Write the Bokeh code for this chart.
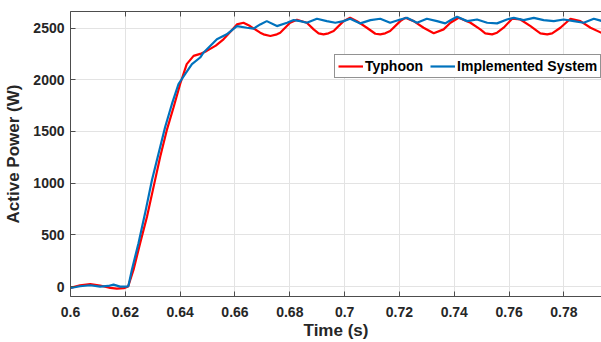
from bokeh.plotting import figure
from bokeh.models import Range1d, FixedTicker, LinearAxis, Legend, LegendItem
from bokeh.embed import file_html
from bokeh.resources import INLINE

# Typhoon (red) series
red_t = [0.600, 0.6035, 0.6072, 0.6108, 0.6145, 0.6169, 0.6195, 0.6210, 0.6230, 0.6254,
         0.6279, 0.6303, 0.6327, 0.6351, 0.6376, 0.6400, 0.6424, 0.6449, 0.6473, 0.6497,
         0.6530, 0.6558, 0.6585, 0.6607, 0.6631, 0.6655, 0.6692, 0.6704, 0.6729, 0.6753,
         0.6765, 0.6801, 0.6826, 0.6862, 0.6887, 0.6905, 0.6923, 0.6941, 0.6960, 0.6996,
         0.7020, 0.7045, 0.7081, 0.7112, 0.7130, 0.7148, 0.7166, 0.7203, 0.7221, 0.7252,
         0.7288, 0.7325, 0.7361, 0.7386, 0.7416, 0.7459, 0.7495, 0.7513, 0.7538, 0.7556,
         0.7580, 0.7611, 0.7641, 0.7678, 0.7714, 0.7739, 0.7757, 0.7787, 0.7824, 0.7860,
         0.7897, 0.7940]
red_p = [-13, 13, 24, 10, -13, -20, -15, 0, 163, 420,
         676, 964, 1253, 1510, 1734, 1959, 2151, 2231, 2250, 2279,
         2330, 2391, 2470, 2535, 2551, 2519, 2455, 2439, 2423, 2439,
         2455, 2551, 2580, 2551, 2487, 2449, 2439, 2449, 2471, 2567,
         2599, 2567, 2503, 2445, 2439, 2449, 2471, 2567, 2599, 2567,
         2503, 2449, 2487, 2551, 2599, 2551, 2487, 2449, 2439, 2455,
         2503, 2590, 2583, 2519, 2449, 2439, 2449, 2503, 2590, 2567,
         2503, 2450]

# Implemented System (blue) series
blue_t = [0.600, 0.6035, 0.6072, 0.6108, 0.6138, 0.6157, 0.6181, 0.6205, 0.6211, 0.6224,
          0.6248, 0.6272, 0.6297, 0.6321, 0.6345, 0.6370, 0.6394, 0.6418, 0.6443, 0.6473,
          0.6485, 0.6534, 0.6570, 0.6607, 0.6643, 0.6668, 0.6692, 0.6716, 0.6753, 0.6790,
          0.6814, 0.6838, 0.6862, 0.6899, 0.6935, 0.6966, 0.6996, 0.7020, 0.7057, 0.7094,
          0.7130, 0.7166, 0.7203, 0.7227, 0.7264, 0.7300, 0.7337, 0.7367, 0.7386, 0.7410,
          0.7447, 0.7483, 0.7520, 0.7556, 0.7592, 0.7617, 0.7653, 0.7690, 0.7726, 0.7763,
          0.7799, 0.7836, 0.7872, 0.7909, 0.7940]
blue_p = [-13, 3, 13, 0, 6, 19, 0, 0, 3, 163,
          420, 708, 1029, 1285, 1541, 1766, 1959, 2055, 2151, 2215,
          2262, 2391, 2439, 2519, 2503, 2494, 2535, 2567, 2519, 2551,
          2577, 2567, 2551, 2590, 2567, 2551, 2567, 2590, 2545, 2577,
          2590, 2551, 2583, 2599, 2551, 2590, 2567, 2545, 2575, 2609,
          2567, 2583, 2551, 2545, 2583, 2599, 2577, 2599, 2577, 2567,
          2583, 2567, 2551, 2590, 2567]

x_ticks = [0.6, 0.62, 0.64, 0.66, 0.68, 0.7, 0.72, 0.74, 0.76, 0.78]
x_tick_labels = ["0.6", "0.62", "0.64", "0.66", "0.68", "0.7", "0.72", "0.74", "0.76", "0.78"]
y_ticks = [0, 500, 1000, 1500, 2000, 2500]

FONT = "Liberation Sans"
TXT = "#262626"
AX = "#4d4d4d"

p = figure(width=601, height=342, x_range=Range1d(0.6, 0.7937), y_range=Range1d(-96, 2660),
           output_backend="svg", toolbar_location=None,
           min_border_left=70, min_border_right=0, min_border_top=11, min_border_bottom=44)
p.outline_line_color = None

p.xaxis.ticker = FixedTicker(ticks=x_ticks)
p.xaxis.major_label_overrides = {t: l for t, l in zip(x_ticks, x_tick_labels)}
p.yaxis.ticker = FixedTicker(ticks=y_ticks)
p.xgrid.ticker = FixedTicker(ticks=x_ticks)
p.ygrid.ticker = FixedTicker(ticks=y_ticks)
p.grid.grid_line_color = "#e3e3e3"
p.grid.grid_line_width = 1

for ax in (p.xaxis[0], p.yaxis[0]):
    ax.major_tick_in = 5
    ax.major_tick_out = 0
    ax.minor_tick_line_color = None
    ax.axis_line_color = AX
    ax.major_tick_line_color = AX
    ax.major_label_text_font = FONT
    ax.major_label_text_font_style = "bold"
    ax.major_label_text_font_size = "14px"
    ax.major_label_text_color = TXT
    ax.axis_label_text_font = FONT
    ax.axis_label_text_font_style = "bold"
    ax.axis_label_text_font_size = "17px"
    ax.axis_label_text_color = TXT

p.xaxis.axis_label = "Time (s)"
p.yaxis.axis_label = "Active Power (W)"
p.xaxis.major_label_standoff = 10
p.xaxis.axis_label_standoff = 1
p.yaxis.major_label_standoff = 6
p.yaxis.axis_label_standoff = 7

top = LinearAxis(ticker=FixedTicker(ticks=x_ticks), major_label_text_font_size="1px",
                 major_label_text_color=None,
                 major_label_standoff=0, major_tick_in=5, major_tick_out=0,
                 minor_tick_line_color=None, axis_line_color=AX, major_tick_line_color=AX)
p.add_layout(top, "above")

r_red = p.line(red_t, red_p, line_color="#ff0000", line_width=2.2)
r_blue = p.line(blue_t, blue_p, line_color="#0072bd", line_width=2.2)

legend = Legend(items=[LegendItem(label="Typhoon", renderers=[r_red]),
                       LegendItem(label="Implemented System", renderers=[r_blue])],
                location=(264, 218), orientation="horizontal",
                border_line_color=TXT, border_line_width=1,
                background_fill_color="white", background_fill_alpha=1,
                label_text_font=FONT, label_text_font_style="bold",
                label_text_font_size="14px", label_text_color="black",
                glyph_width=25, glyph_height=14, label_standoff=2, spacing=7,
                padding=3, margin=0, label_height=14)
p.add_layout(legend)

open("out.html", "w").write(file_html(p, INLINE))
